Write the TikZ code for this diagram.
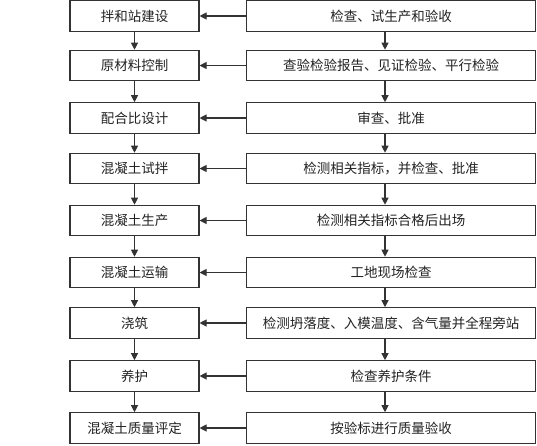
\documentclass[tikz,border=0pt]{standalone}
\usepackage{fontspec}
\setmainfont{Noto Sans CJK SC}
\usetikzlibrary{arrows.meta,positioning}
\definecolor{ln}{HTML}{333333}
\definecolor{tx}{HTML}{222222}
\tikzset{
  lbox/.style={draw=ln,line width=1.1pt,minimum width=129pt,minimum height=30.5pt,inner sep=0pt,text=tx,font=\fontsize{13.5pt}{14pt}\selectfont},
  rbox/.style={draw=ln,line width=1.1pt,minimum width=289pt,minimum height=30.5pt,inner sep=0pt,text=tx,font=\fontsize{13.5pt}{14pt}\selectfont},
  arr/.style={draw=ln,line width=1.1pt,-{Triangle[length=7pt,width=7pt]}}
}
\begin{document}
\begin{tikzpicture}[x=1pt,y=-1pt]
\useasboundingbox (0,0) rectangle (537,445);
\foreach \i/\y/\a/\b in {
 1/16/拌和站建设/检查、试生产和验收,
 2/65.5/原材料控制/查验检验报告、见证检验、平行检验,
 3/118/配合比设计/审查、批准,
 4/168.5/混凝土试拌/检测相关指标，并检查、批准,
 5/220.5/混凝土生产/检测相关指标合格后出场,
 6/272.5/混凝土运输/工地现场检查,
 7/323/浇筑/检测坍落度、入模温度、含气量并全程旁站,
 8/376/养护/检查养护条件,
 9/428/混凝土质量评定/按验标进行质量验收}{
  \node[lbox] (l\i) at (134.5,\y) {\a};
  \node[rbox] (r\i) at (391,\y) {\b};
  \draw[arr] (r\i.west) -- (l\i.east);
}
\foreach \i [evaluate=\i as \j using int(\i+1)] in {1,...,8}{
  \draw[arr] (l\i.south) -- (l\j.north);
  \draw[arr] ([xshift=-6pt]r\i.south) -- ([xshift=-6pt]r\j.north);
}
\end{tikzpicture}
\end{document}
